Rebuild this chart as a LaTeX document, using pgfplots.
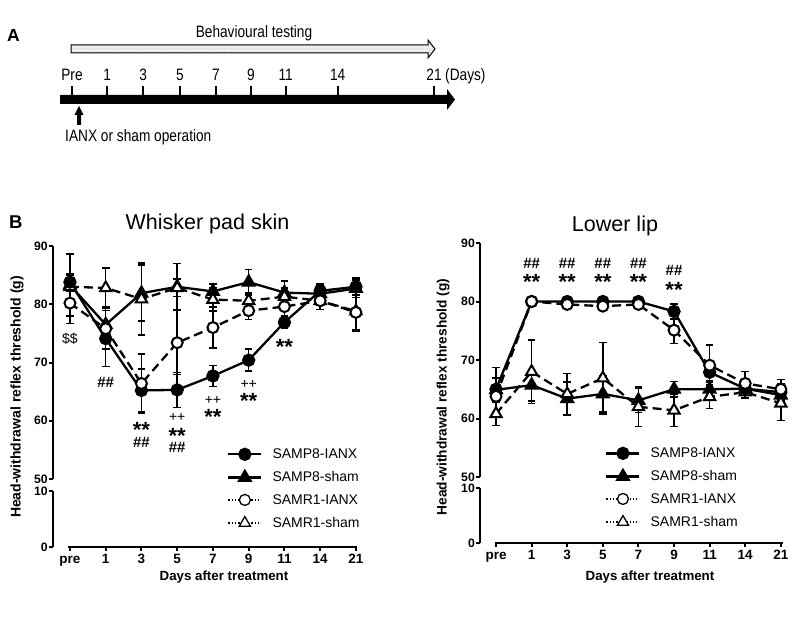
\documentclass[border=0pt]{standalone}
\usepackage{fontspec}
\setmainfont{Liberation Sans}
\newfontfamily\narrowfont[FakeStretch=0.83]{Liberation Sans}
\usepackage{pgfplots}
\usepackage{pgfplotstable}
\usetikzlibrary{patterns}
\pgfplotsset{compat=1.18}

\pgfplotstableread{
x y e
0 83.8 1.5
1 74.1 4.8
2 65.2 3.7
3 65.3 3.0
4 67.7 1.8
5 70.4 1.9
6 76.9 1.0
7 82.3 1.2
8 83.0 1.5
}\wpA
\pgfplotstableread{
x y e
0 83.3 5.3
1 76.5 3.0
2 81.9 4.8
3 83.0 4.0
4 82.2 1.3
5 83.8 2.2
6 82.0 2.0
7 81.8 1.5
8 82.7 1.5
}\wpB
\pgfplotstableread{
x y e
0 80.2 3.5
1 75.8 3.5
2 66.4 5.1
3 73.4 5.5
4 76.0 3.5
5 78.9 1.5
6 79.6 1.5
7 80.6 1.5
8 78.6 3.0
}\wpC
\pgfplotstableread{
x y e
0 83.0 2.0
1 82.8 3.4
2 80.9 6.2
3 82.8 1.5
4 80.8 2.0
5 80.6 1.3
6 81.3 1.5
7 80.6 1.5
8 78.8 3.4
}\wpD
\pgfplotstableread{
x y e
0 65.0 2.0
1 80.0 0.3
2 80.0 0.3
3 80.0 0.3
4 80.0 0.3
5 78.3 1.3
6 67.9 1.5
7 65.1 1.0
8 64.5 1.5
}\llA
\pgfplotstableread{
x y e
0 64.9 3.8
1 65.7 2.7
2 63.4 2.8
3 64.2 3.1
4 63.1 2.1
5 65.0 1.3
6 65.0 1.2
7 65.1 1.0
8 64.0 1.5
}\llB
\pgfplotstableread{
x y e
0 63.8 3.0
1 80.0 0.3
2 79.5 0.4
3 79.2 0.4
4 79.5 0.4
5 75.1 2.3
6 69.1 3.5
7 66.0 2.0
8 65.0 1.7
}\llC
\pgfplotstableread{
x y e
0 60.8 2.0
1 68.0 5.4
2 64.2 3.5
3 66.9 6.1
4 62.0 3.4
5 61.4 2.8
6 63.7 2.0
7 64.5 1.0
8 62.6 2.9
}\llD

\pgfplotsset{
  errb/.style={/pgfplots/error bars/y dir=both, /pgfplots/error bars/y explicit,
    /pgfplots/error bars/error bar style={line width=1.5pt, solid, black},
    /pgfplots/error bars/error mark options={rotate=90, mark size=3.8pt, line width=1.5pt, solid, black}},
  p8a/.style={black, line width=2.3pt, solid, mark=*, mark size=5.5pt, mark options={solid, fill=black}, errb},
  p8s/.style={black, line width=2.3pt, solid, mark=triangle*, mark size=6.5pt, mark options={solid, fill=black}, errb},
  r1a/.style={black, line width=2.3pt, dash pattern=on 9pt off 5pt, mark=*, mark size=5.5pt, mark options={solid, fill=white, line width=2pt}, errb},
  r1s/.style={black, line width=2.3pt, dash pattern=on 9pt off 5pt, mark=triangle*, mark size=6.5pt, mark options={solid, fill=white, line width=2pt}, errb},
  base/.style={scale only axis, anchor=south west, clip=false,
    /pgf/number format/assume math mode=true,
    tick align=outside, major tick length=4pt, tick style={black, line width=2pt},
    y axis line style={-, line width=2.2pt},
    y tick label style={font=\bfseries\fontsize{12.2}{13}\selectfont, inner sep=1pt},
    x tick label style={font=\bfseries\fontsize{13.5}{14}\selectfont, inner sep=0pt, text height=9.7pt, text depth=2.8pt, yshift=-3pt}},
  upper/.style={base, ymin=50, ymax=90, ytick={50,60,70,80,90}, axis x line=none, axis y line*=left},
  lower/.style={base, ymin=0, ymax=10, ytick={0,10}, axis y line*=left, axis x line*=bottom,
    x axis line style={draw=none}, xtick={0,...,8}, xticklabels={pre,1,3,5,7,9,11,14,21}},
  leg/.style={legend cell align=left,
    legend style={anchor=north west, draw=none, fill=none, inner sep=0pt, row sep=11pt, column sep=10pt,
      font=\fontsize{14}{16}\selectfont, nodes={inner sep=0pt}},
    legend image code/.code={\draw[mark repeat=2,mark phase=2,##1] plot coordinates {(0pt,0pt) (16.5pt,0pt) (33pt,0pt)};}},
}
\newcommand{\stars}{\bfseries\fontsize{22}{22}\selectfont}
\newcommand{\hashf}{\bfseries\fontsize{15}{15}\selectfont}
\newcommand{\plusf}{\fontsize{14}{14}\selectfont}

\begin{document}
\begin{tikzpicture}[x=1pt,y=1pt]
\useasboundingbox (0,0) rectangle (799,619);
% ---------------- Panel A ----------------
\node[anchor=base west, inner sep=0pt, font=\bfseries\fontsize{17.5}{20}\selectfont] at (7,577) {A};
\node[anchor=base, inner sep=0pt, font=\narrowfont\fontsize{16.5}{18}\selectfont] at (254,581) {Behavioural testing};
\fill[gray!12] (71,566) -- (428,566) -- (428,561) -- (435,570) -- (428,579) -- (428,574) -- (71,574) -- cycle;
\fill[pattern=dots, pattern color=gray!80] (71,566) -- (428,566) -- (428,561) -- (435,570) -- (428,579) -- (428,574) -- (71,574) -- cycle;
\draw[line width=1pt] (71,566) -- (428,566) -- (428,561) -- (435,570) -- (428,579) -- (428,574) -- (71,574) -- cycle;
\fill (60,515) -- (447,515) -- (447,509) -- (455,519.5) -- (447,530) -- (447,524) -- (60,524) -- cycle;
\foreach \x/\t in {72/Pre,107.3/1,143.3/3,180/5,216/7,251/9,285.7/11,337.7/14,434/21}{
  \draw[line width=2pt] (\x,523) -- (\x,533);
  \node[anchor=base, inner sep=0pt, font=\narrowfont\fontsize{16.5}{18}\selectfont] at (\x,538.3) {\t};
}
\node[anchor=base west, inner sep=0pt, font=\narrowfont\fontsize{16.5}{18}\selectfont] at (445,538.3) {(Days)};
\fill (77,494) -- (81,494) -- (81,504) -- (83.5,504) -- (79,513) -- (74.5,504) -- (77,504) -- cycle;
\node[anchor=base west, inner sep=0pt, font=\narrowfont\fontsize{16.5}{18}\selectfont] at (65,477.3) {IANX or sham operation};
% ---------------- Panel B labels ----------------
\node[anchor=base west, inner sep=0pt, font=\bfseries\fontsize{18.5}{20}\selectfont] at (9,390) {B};
\node[anchor=base, inner sep=0pt, font=\fontsize{21.5}{24}\selectfont] at (207.5,389) {Whisker pad skin};
\node[anchor=base, inner sep=0pt, font=\fontsize{21.5}{24}\selectfont] at (615,387) {Lower lip};
\node[rotate=90, inner sep=0pt, font=\bfseries\fontsize{14}{16}\selectfont] at (17,222) {Head-withdrawal reflex threshold (g)};
\node[rotate=90, inner sep=0pt, font=\bfseries\fontsize{13.7}{16}\selectfont] at (443,222) {Head-withdrawal reflex threshold (g)};
\node[inner sep=0pt, font=\bfseries\fontsize{13.3}{15}\selectfont] at (224,42) {Days after treatment};
\node[inner sep=0pt, font=\bfseries\fontsize{13.3}{15}\selectfont] at (650,42) {Days after treatment};

% ---------------- Left: whisker pad ----------------
\begin{axis}[lower, at={(52.8pt,72pt)}, width=306.7pt, height=56pt, xmin=-0.48, xmax=8.1]
\draw[line width=2.2pt] (axis cs:-0.05,0) -- (axis cs:8.03,0);
\end{axis}
\begin{axis}[upper, leg, at={(52.8pt,140pt)}, width=306.7pt, height=233pt, xmin=-0.48, xmax=8.1,
  legend style={at={(0.568,0.131)}}]
\addlegendimage{black, line width=2.3pt, mark=*, mark size=5.5pt}
\addlegendimage{black, line width=2.3pt, mark=triangle*, mark size=6.5pt}
\addlegendimage{black, line width=1.3pt, dotted, mark=*, mark size=5.5pt, mark options={solid, fill=white, line width=1.3pt}}
\addlegendimage{black, line width=1.3pt, dotted, mark=triangle*, mark size=6.5pt, mark options={solid, fill=white, line width=1.3pt}}
\addplot[p8s, forget plot] table[x=x, y=y, y error=e] {\wpB};
\addplot[r1s, forget plot] table[x=x, y=y, y error=e] {\wpD};
\addplot[p8a, forget plot] table[x=x, y=y, y error=e] {\wpA};
\addplot[r1a, forget plot] table[x=x, y=y, y error=e] {\wpC};
\legend{SAMP8-IANX, SAMP8-sham, SAMR1-IANX, SAMR1-sham}
\node[font=\plusf] at (axis cs:0,74.0) {\$\$};
\node[font=\hashf] at (axis cs:1,66.6) {\#\#};
\node[font=\stars, yshift=-4.5pt] at (axis cs:2,59.2) {**};
\node[font=\hashf] at (axis cs:2,56.2) {\#\#};
\node[font=\plusf] at (axis cs:3,60.5) {++};
\node[font=\stars, yshift=-4.5pt] at (axis cs:3,58.1) {**};
\node[font=\hashf] at (axis cs:3,55.5) {\#\#};
\node[font=\plusf] at (axis cs:4,63.5) {++};
\node[font=\stars, yshift=-4.5pt] at (axis cs:4,61.5) {**};
\node[font=\plusf] at (axis cs:5,66.2) {++};
\node[font=\stars, yshift=-4.5pt] at (axis cs:5,64.2) {**};
\node[font=\stars, yshift=-4.5pt] at (axis cs:6,73.4) {**};
\end{axis}

% ---------------- Right: lower lip ----------------
\begin{axis}[lower, at={(480pt,76pt)}, width=304.4pt, height=55pt, xmin=-0.45, xmax=8.1]
\draw[line width=2.2pt] (axis cs:-0.03,0) -- (axis cs:8.05,0);
\end{axis}
\begin{axis}[upper, leg, at={(480pt,142pt)}, width=304.4pt, height=234pt, xmin=-0.45, xmax=8.1,
  legend style={at={(0.411,0.126)}}]
\addlegendimage{black, line width=2.3pt, mark=*, mark size=5.5pt}
\addlegendimage{black, line width=2.3pt, mark=triangle*, mark size=6.5pt}
\addlegendimage{black, line width=1.3pt, dotted, mark=*, mark size=5.5pt, mark options={solid, fill=white, line width=1.3pt}}
\addlegendimage{black, line width=1.3pt, dotted, mark=triangle*, mark size=6.5pt, mark options={solid, fill=white, line width=1.3pt}}
\addplot[p8s, forget plot] table[x=x, y=y, y error=e] {\llB};
\addplot[r1s, forget plot] table[x=x, y=y, y error=e] {\llD};
\addplot[p8a, forget plot] table[x=x, y=y, y error=e] {\llA};
\addplot[r1a, forget plot] table[x=x, y=y, y error=e] {\llC};
\legend{SAMP8-IANX, SAMP8-sham, SAMR1-IANX, SAMR1-sham}
\node[font=\hashf] at (axis cs:1,86.6) {\#\#};
\node[font=\stars, yshift=-4.5pt] at (axis cs:1,84.2) {**};
\node[font=\hashf] at (axis cs:2,86.6) {\#\#};
\node[font=\stars, yshift=-4.5pt] at (axis cs:2,84.2) {**};
\node[font=\hashf] at (axis cs:3,86.6) {\#\#};
\node[font=\stars, yshift=-4.5pt] at (axis cs:3,84.2) {**};
\node[font=\hashf] at (axis cs:4,86.6) {\#\#};
\node[font=\stars, yshift=-4.5pt] at (axis cs:4,84.2) {**};
\node[font=\hashf] at (axis cs:5,85.4) {\#\#};
\node[font=\stars, yshift=-4.5pt] at (axis cs:5,82.8) {**};
\end{axis}
\end{tikzpicture}
\end{document}
